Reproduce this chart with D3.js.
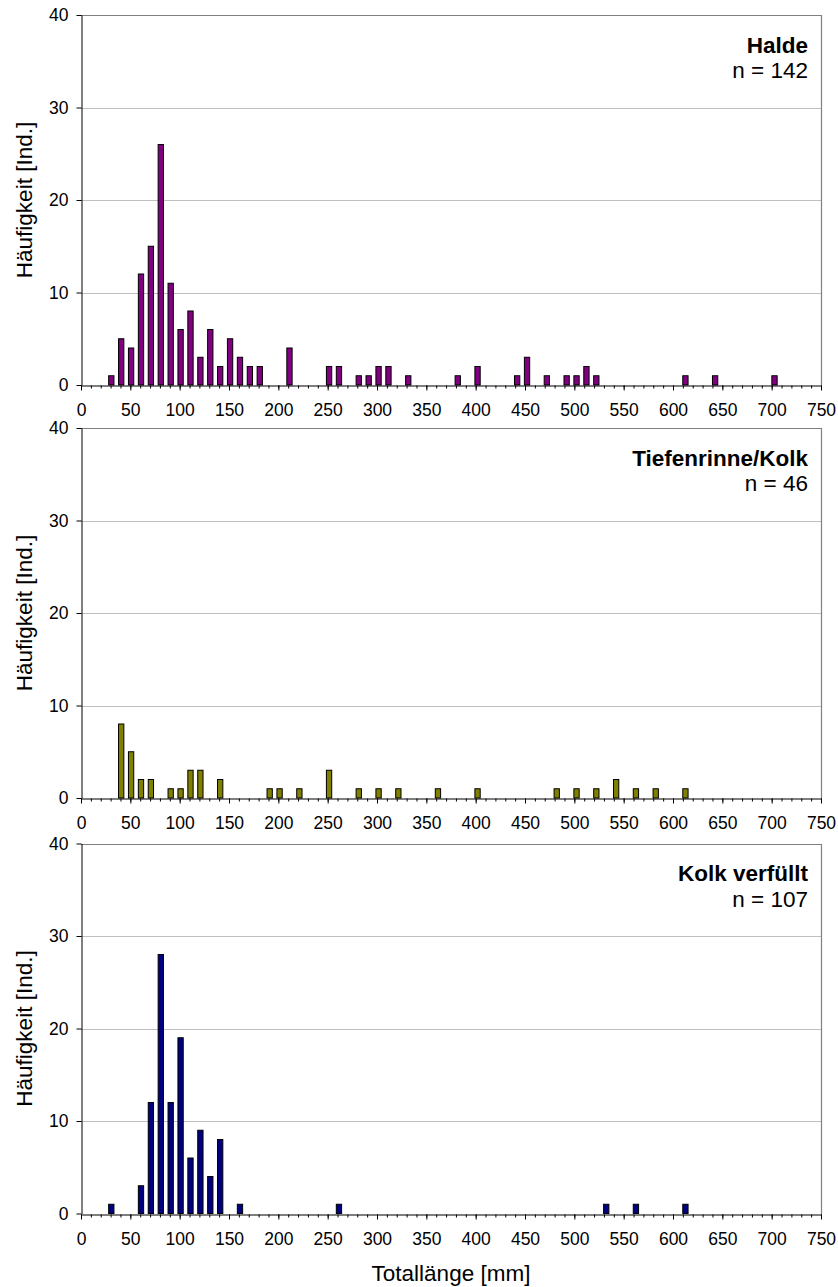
<!DOCTYPE html>
<html>
<head>
<meta charset="utf-8">
<script src="https://cdn.jsdelivr.net/npm/d3@7"></script>
<style>
  body { margin: 0; background: #fff; }
  svg { display: block; }
  text { font-family: "Liberation Sans", Arial, sans-serif; fill: #000; }
</style>
</head>
<body>
<div id="chart"></div>
<script>
// Length classes (mm) and counts per habitat
const haldeLength = [30, 40, 50, 60, 70, 80, 90, 100, 110, 120, 130, 140, 150, 160, 170, 180,
                     210, 250, 260, 280, 290, 300, 310, 330, 380, 400, 440, 450, 470, 490, 500,
                     510, 520, 610, 640, 700];
const haldeCount  = [1, 5, 4, 12, 15, 26, 11, 6, 8, 3, 6, 2, 5, 3, 2, 2,
                     4, 2, 2, 1, 1, 2, 2, 1, 1, 2, 1, 3, 1, 1, 1,
                     2, 1, 1, 1, 1];

const kolkLength = [40, 50, 60, 70, 90, 100, 110, 120, 140, 190, 200, 220, 250, 280, 300,
                    320, 360, 400, 480, 500, 520, 540, 560, 580, 610];
const kolkCount  = [8, 5, 2, 2, 1, 1, 3, 3, 2, 1, 1, 1, 3, 1, 1,
                    1, 1, 1, 1, 1, 1, 2, 1, 1, 1];

const verfuelltLength = [30, 60, 70, 80, 90, 100, 110, 120, 130, 140, 160, 260, 530, 560, 610];
const verfuelltCount  = [1, 3, 12, 28, 12, 19, 6, 9, 4, 8, 1, 1, 1, 1, 1];

const panelTitles = ["Halde", "Tiefenrinne/Kolk", "Kolk verfüllt"];
const panelN      = [142, 46, 107];

const xTickValues  = [0, 50, 100, 150, 200, 250, 300, 350, 400, 450, 500, 550, 600, 650, 700, 750];
const xMinorValues = d3.range(0, 751, 10);
const yTickValues  = [0, 10, 20, 30, 40];

const xTitle = "Totallänge [mm]";
const yTitle = "Häufigkeit [Ind.]";

const panels = [
  { length: haldeLength,     count: haldeCount,     color: "#800080" },
  { length: kolkLength,      count: kolkCount,      color: "#808000" },
  { length: verfuelltLength, count: verfuelltCount, color: "#000080" }
];

// Layout
const W = 838, H = 1287;
const left = 81, right = 821;
const panelTop = [15, 428, 843.5];
const panelH = 370;

const svg = d3.select("#chart").append("svg")
  .attr("width", W).attr("height", H);

// Axis scale and the (slightly wider) scale for category centres of the columns
const x = d3.scaleLinear().domain([0, 750]).range([left, right]);
const xBar = d3.scaleLinear().domain([0, 750]).range([left + 0.6, left + 743]);
const barW = 5.3;

panels.forEach((p, i) => {
  const top = panelTop[i], bottom = top + panelH;
  const y = d3.scaleLinear().domain([0, 40]).range([bottom, top]);
  const g = svg.append("g");

  // horizontal gridlines
  g.selectAll("line.grid").data(yTickValues.filter(v => v > 0 && v < 40))
    .join("line").attr("class", "grid")
    .attr("x1", left).attr("x2", right)
    .attr("y1", d => Math.round(y(d)) + 0.5).attr("y2", d => Math.round(y(d)) + 0.5)
    .attr("stroke", "#c0c0c0").attr("stroke-width", 1);

  // plot-area frame (top and right)
  g.append("path")
    .attr("d", `M${left},${Math.round(top) + 0.5}H${right + 0.5}V${Math.round(bottom)}`)
    .attr("fill", "none").attr("stroke", "#808080").attr("stroke-width", 1.2);

  // columns
  g.selectAll("rect.bar").data(p.length.map((l, k) => ({ l, c: p.count[k] })))
    .join("rect").attr("class", "bar")
    .attr("x", d => xBar(d.l) - barW / 2)
    .attr("y", d => y(d.c))
    .attr("width", barW)
    .attr("height", d => y(0) - y(d.c))
    .attr("fill", p.color)
    .attr("stroke", "#000").attr("stroke-width", 1);

  // y axis
  const yAxis = g.append("g")
    .attr("transform", `translate(${left + 0.5},0)`)
    .call(d3.axisLeft(y).tickValues(yTickValues).tickSize(5).tickSizeOuter(0).tickPadding(8));
  yAxis.select(".domain").attr("stroke", "#000");
  yAxis.selectAll("text").style("font-size", "17.5px").style("font-family", '"Liberation Sans", Arial, sans-serif');

  // x axis: minor ticks
  g.append("g")
    .attr("transform", `translate(0,${Math.round(bottom) + 0.5})`)
    .call(d3.axisBottom(x).tickValues(xMinorValues).tickSize(3).tickSizeOuter(0).tickFormat(""))
    .select(".domain").remove();

  // x axis: major ticks and labels
  const xAxis = g.append("g")
    .attr("transform", `translate(0,${Math.round(bottom) + 0.5})`)
    .call(d3.axisBottom(x).tickValues(xTickValues).tickSize(5).tickSizeOuter(0).tickPadding(13));
  xAxis.select(".domain").attr("stroke", "#000").attr("stroke-width", 1.2);
  xAxis.selectAll("text").style("font-size", "17.5px").style("font-family", '"Liberation Sans", Arial, sans-serif');

  // y axis title
  g.append("text")
    .attr("transform", `translate(31.5,${(top + bottom) / 2}) rotate(-90)`)
    .attr("text-anchor", "middle")
    .style("font-size", "22.5px")
    .text(yTitle);

  // habitat label and sample size
  g.append("text")
    .attr("x", 808).attr("y", top + 37.5)
    .attr("text-anchor", "end")
    .style("font-size", "22.5px").style("font-weight", "bold")
    .text(panelTitles[i]);
  g.append("text")
    .attr("x", 808).attr("y", top + 63)
    .attr("text-anchor", "end")
    .style("font-size", "22.5px")
    .text(`n = ${panelN[i]}`);
});

// x axis title
svg.append("text")
  .attr("x", (left + right) / 2).attr("y", 1281)
  .attr("text-anchor", "middle")
  .style("font-size", "22.5px")
  .text(xTitle);
</script>
</body>
</html>
